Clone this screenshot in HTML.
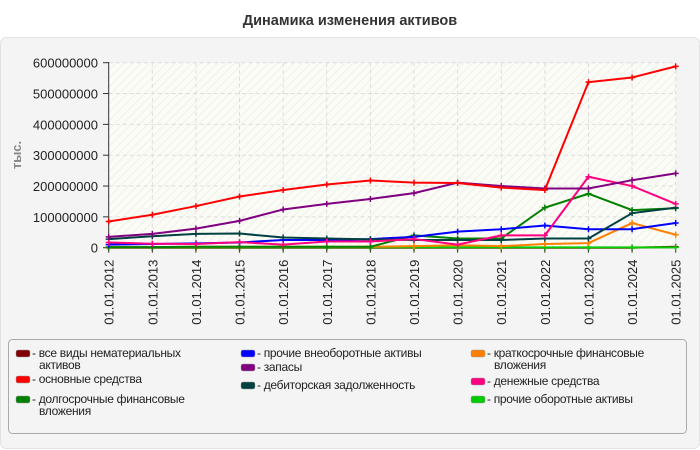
<!DOCTYPE html>
<html><head><meta charset="utf-8"><style>
body{margin:0;background:#fff;}
svg{display:block;font-family:"Liberation Sans",sans-serif;}
</style></head><body>
<svg id="s" width="700" height="450" xmlns="http://www.w3.org/2000/svg">
<defs>
<pattern id="h" width="6" height="6" patternUnits="userSpaceOnUse" patternTransform="rotate(45)">
<rect width="6" height="6" fill="#fcfcf7"/><line x1="0" y1="0" x2="0" y2="6" stroke="#f0f0ea" stroke-width="2"/>
</pattern>
</defs>
<text x="350" y="25" text-anchor="middle" font-size="14.5" font-weight="bold" fill="#333">Динамика изменения активов</text>
<rect x="0.5" y="37.5" width="699" height="411" rx="6" fill="#f4f4f4" stroke="#e2e2e2"/>
<rect x="108.7" y="62.7" width="567" height="185" fill="url(#h)"/>
<g id="grid" stroke="#dcdcdc" stroke-dasharray="4,3" stroke-width="1"></g>
<line x1="108.7" y1="62" x2="108.7" y2="248" stroke="#333"/>
<line x1="108.7" y1="247.7" x2="676" y2="247.7" stroke="#333"/>
<g id="ylab" font-size="13" fill="#222" text-anchor="end"></g>
<g id="xlab" font-size="13" fill="#222"></g>
<text transform="translate(21,155) rotate(-90)" text-anchor="middle" font-size="13" font-weight="bold" fill="#888">тыс.</text>
<g id="series" fill="none" stroke-width="2"></g>
<rect x="8.5" y="339.5" width="678" height="94" rx="4" fill="#f4f4f4" stroke="#aaa"/>
<g id="leg" font-size="12" fill="#222" letter-spacing="-0.3"></g>
</svg>
<script>
const X0=108.7,DX=567/13,Y0=247.7,K=185/600;
const g=document.getElementById('grid'),yl=document.getElementById('ylab'),xl=document.getElementById('xlab'),se=document.getElementById('series'),lg=document.getElementById('leg');
const NS='http://www.w3.org/2000/svg';
function el(t,a,p,txt){const e=document.createElementNS(NS,t);for(const k in a)e.setAttribute(k,a[k]);if(txt!=null)e.textContent=txt;p.appendChild(e);return e;}
for(let i=0;i<=6;i++){const y=Y0-i*100*K;if(i>0)el('line',{x1:X0,x2:676,y1:y,y2:y},g);el('line',{x1:103,x2:108.7,y1:y,y2:y,stroke:'#333'},yl);el('text',{x:98,y:y+5},yl,i?String(i*100000000):'0');}
for(let i=0;i<14;i++){const x=X0+i*DX;if(i>0)el('line',{x1:x,x2:x,y1:62.7,y2:Y0},g);el('line',{x1:x,x2:x,y1:Y0,y2:Y0+5,stroke:'#333'},xl);el('text',{transform:`translate(${x+5},${Y0+77}) rotate(-90)`},xl,'01.01.'+(2012+i));}
const S=[
['#800000',[0,0,0,0,0,0,0,0,0,0,0,0,0,3]],
['#00cc00',[1,1,1,1,1,1,1,1,1,1,1,1,1,1]],
['#ff8000',[2,2,3,3,3,3,3,5,8,5,12,15,80,42]],
['#008000',[2,2,3,3,3,3,3,40,30,30,130,175,122,128]],
['#0000ff',[10,12,14,17,25,25,28,35,52,60,72,60,60,80]],
['#004040',[28,37,45,46,33,30,27,25,25,25,30,30,112,130]],
['#ff0080',[17,13,12,18,10,20,20,28,10,40,40,230,200,142]],
['#800080',[35,45,62,87,124,142,158,177,211,200,192,192,219,241]],
['#ff0000',[85,107,135,166,187,205,218,211,210,195,187,537,552,588]]];
S.forEach(([c,d])=>{const pts=d.map((v,i)=>[X0+i*DX,Y0-v*K]);el('polyline',{points:pts.map(p=>p.join(',')).join(' '),stroke:c},se);pts.forEach(p=>el('path',{d:`M${p[0]-3},${p[1]}h6M${p[0]},${p[1]-3}v6`,stroke:c,'stroke-width':1.5},se));});
const L=[['#800000',22,356,['все виды нематериальных','активов']],['#ff0000',22,382,['основные средства']],['#008000',22,402,['долгосрочные финансовые','вложения']],
['#0000ff',247,356,['прочие внеоборотные активы']],['#800080',247,370,['запасы']],['#004040',247,388,['дебиторская задолженность']],
['#ff8000',477,356,['краткосрочные финансовые','вложения']],['#ff0080',477,384,['денежные средства']],['#00cc00',477,402,['прочие оборотные активы']]];
L.forEach(([c,x,y,t])=>{el('rect',{x:x-6,y:y-6,width:14,height:7,rx:2,fill:c,stroke:'#999','stroke-width':0.5},lg);el('text',{x:x+10,y:y+1},lg,'- '+t[0]);if(t[1])el('text',{x:x+17,y:y+13},lg,t[1]);});
</script>
</body></html>
